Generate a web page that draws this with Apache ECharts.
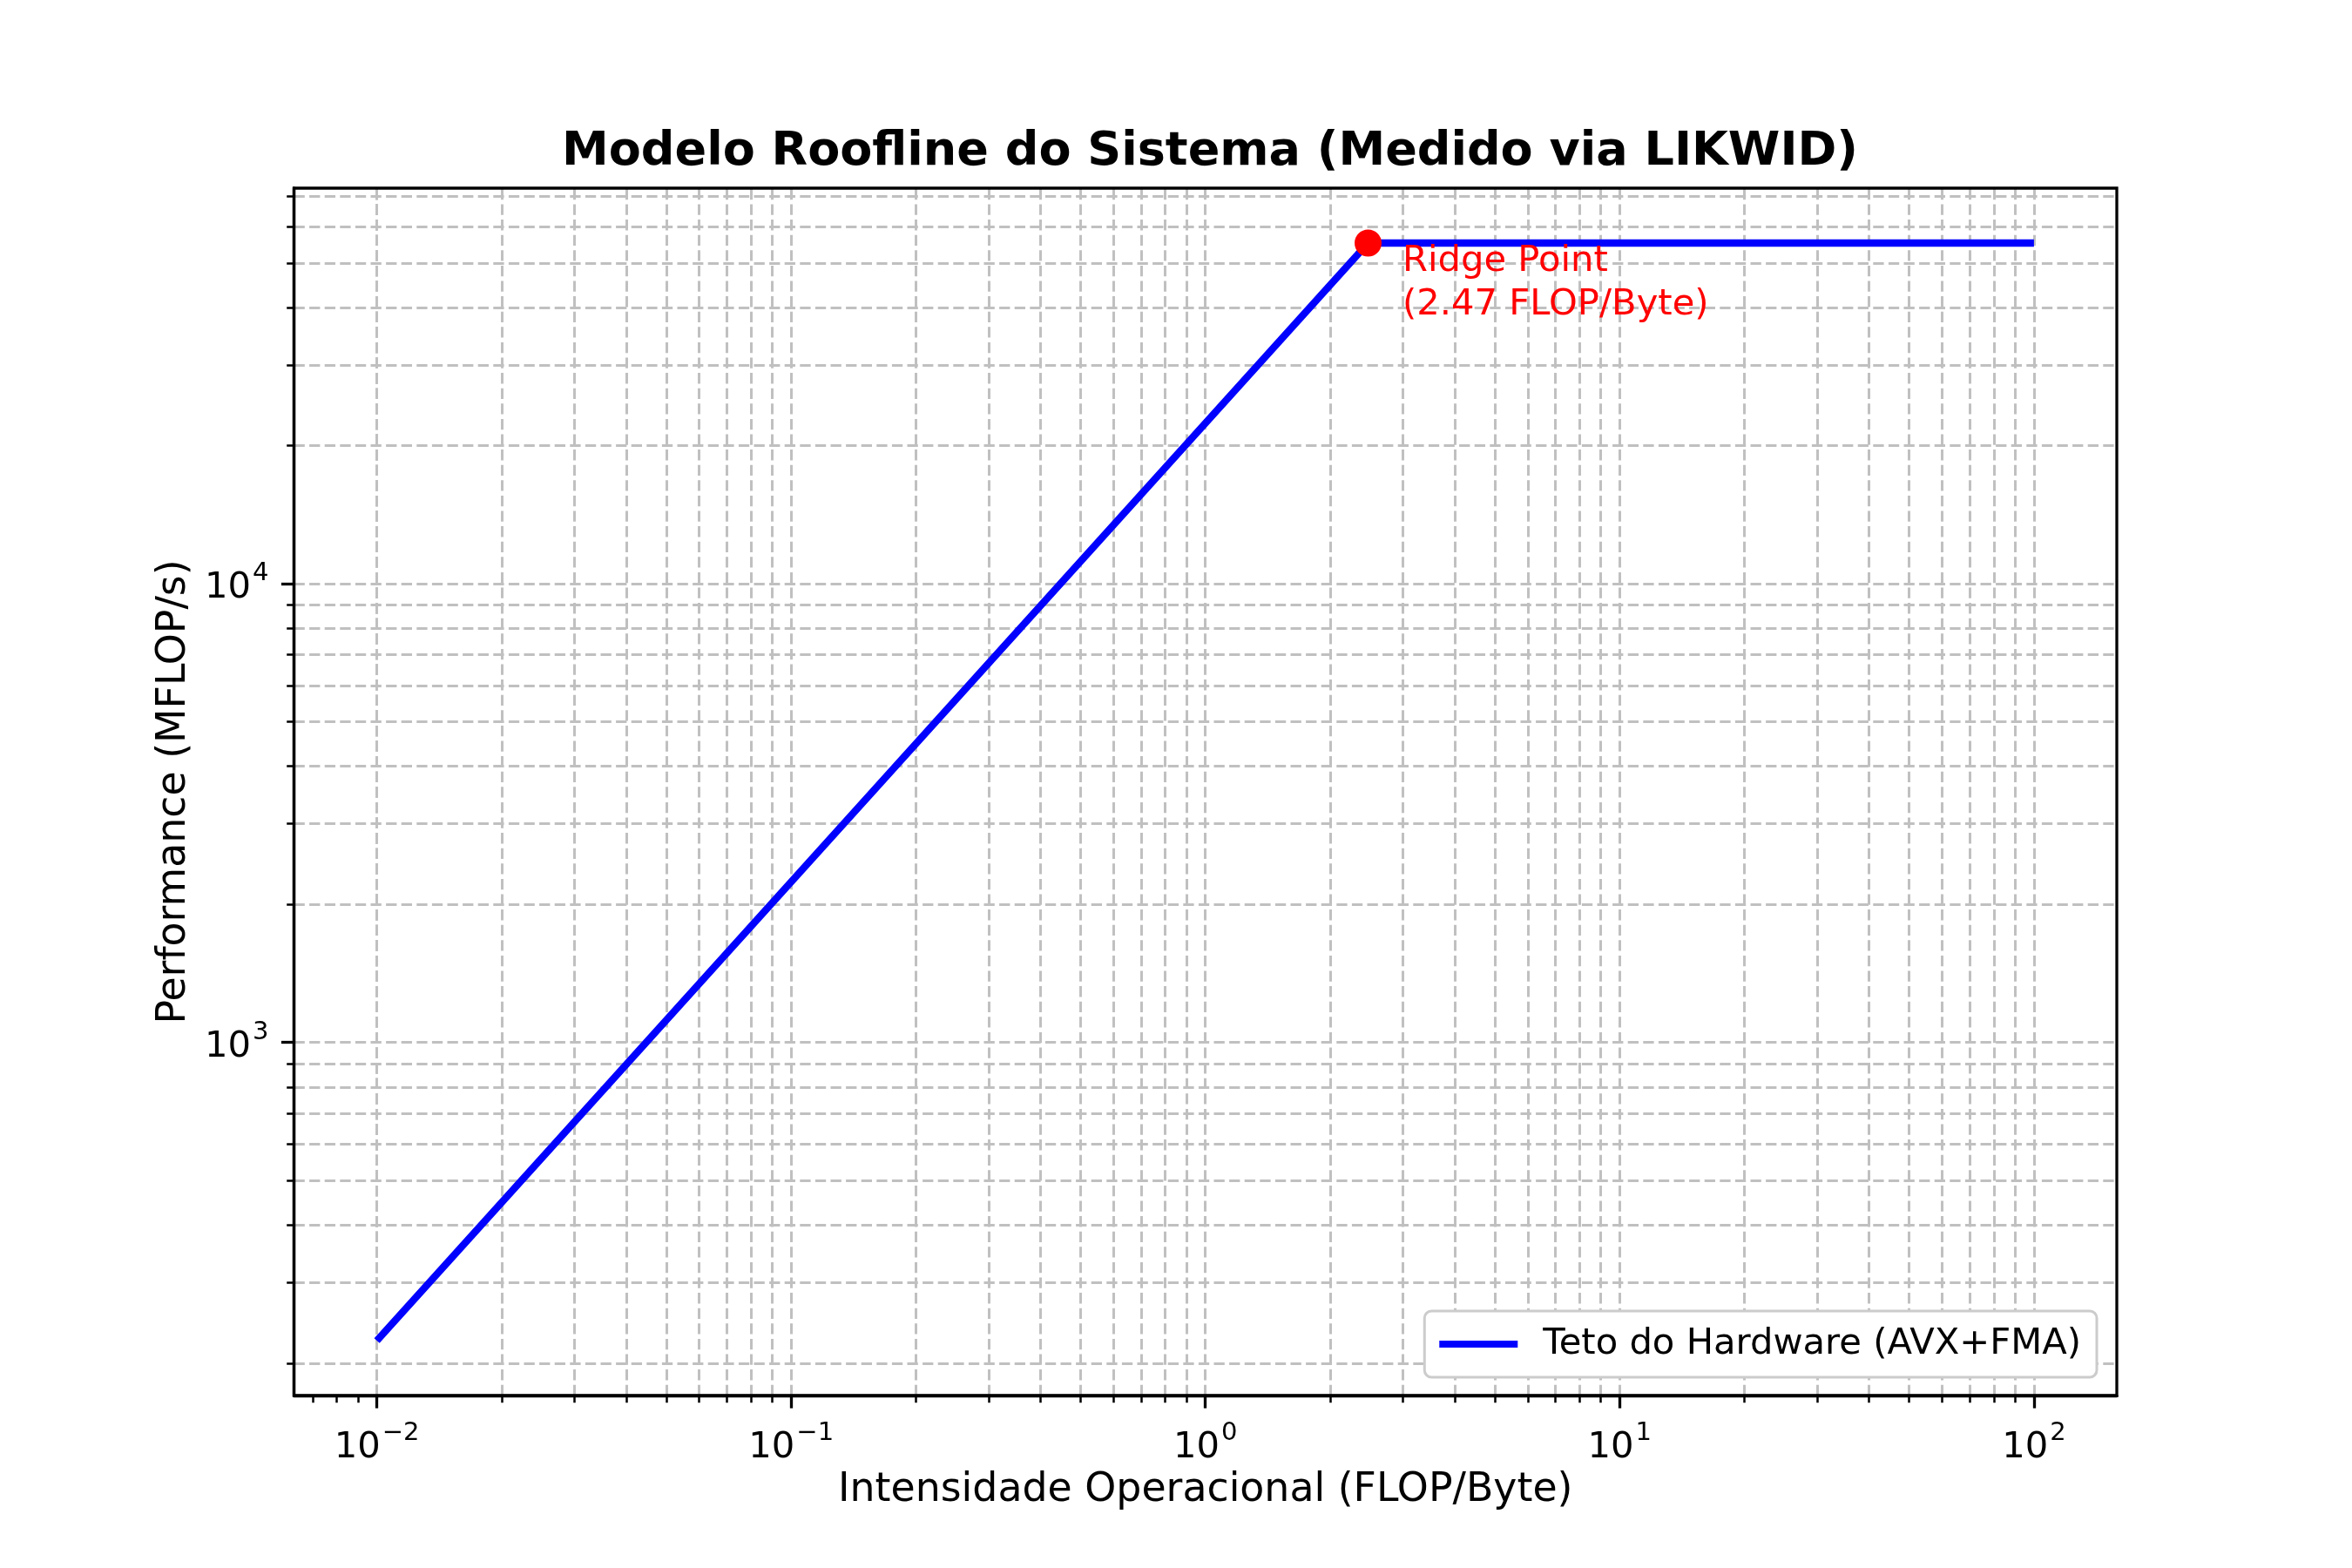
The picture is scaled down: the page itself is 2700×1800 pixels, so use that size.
<!DOCTYPE html>
<html>
<head>
<meta charset="utf-8">
<script src="https://cdn.jsdelivr.net/npm/echarts@6/dist/echarts.min.js"></script>
<style>
html,body{margin:0;padding:0;background:#fff;}
#chart{width:2700px;height:1800px;}
</style>
</head>
<body>
<div id="chart"></div>
<script>
// ---- data ----
const intensity = [0.01, 2.47, 100];          // FLOP/Byte
const performance = [223.9, 55300, 55300];    // MFLOP/s
const ridgePoint = [2.47, 55300];
const xMajorTicks = [0.01, 0.1, 1, 10, 100];
const yMajorTicks = [1000, 10000];
const xMinorTicks = [0.007, 0.008, 0.009,
  0.02, 0.03, 0.04, 0.05, 0.06, 0.07, 0.08, 0.09,
  0.2, 0.3, 0.4, 0.5, 0.6, 0.7, 0.8, 0.9,
  2, 3, 4, 5, 6, 7, 8, 9,
  20, 30, 40, 50, 60, 70, 80, 90];
const yMinorTicks = [200, 300, 400, 500, 600, 700, 800, 900,
  2000, 3000, 4000, 5000, 6000, 7000, 8000, 9000,
  20000, 30000, 40000, 50000, 60000, 70000];
const xRange = [0.0063096, 158.489];
const yRange = [170.0, 72840];

const FONT = 'DejaVu Sans';
const FS = 41.7;
const FS_LABEL = 45.8;

function sciLabel(v) {
  const e = Math.round(Math.log10(v));
  const s = (e < 0 ? '\u2212' : '') + Math.abs(e);
  return '{b|10}{s|' + s + '}';
}
const richLabel = {
  b: { fontFamily: FONT, fontSize: FS, color: '#000', lineHeight: 52, verticalAlign: 'bottom' },
  s: { fontFamily: FONT, fontSize: 29, color: '#000', lineHeight: 52, verticalAlign: 'top', padding: [0, 0, 0, 2] }
};

const gridStyle = { color: '#c0c0c0', width: 3, type: [12.3, 5.3] };
const gridLines = [];
xMajorTicks.concat(xMinorTicks).forEach(v => gridLines.push({ xAxis: v }));
yMajorTicks.concat(yMinorTicks).forEach(v => gridLines.push({ yAxis: v }));

const chart = echarts.init(document.getElementById('chart'), null, { renderer: 'canvas' });
chart.setOption({
  backgroundColor: '#ffffff',
  animation: false,
  title: {
    text: 'Modelo Roofline do Sistema (Medido via LIKWID)',
    left: 1384, top: 143, textAlign: 'center',
    textStyle: { fontFamily: FONT, fontSize: 54, fontWeight: 'bold', color: '#000' }
  },
  grid: {
    left: 337.5, right: 270, top: 216, bottom: 198,
    show: true, borderColor: '#000', borderWidth: 3.3, backgroundColor: 'transparent', z: 10
  },
  legend: {
    right: 293, bottom: 219,
    orient: 'vertical',
    data: [{ name: 'Teto do Hardware (AVX+FMA)', icon: 'rect' }],
    itemWidth: 90, itemHeight: 8,
    padding: [17, 18, 17, 17],
    backgroundColor: '#ffffff',
    borderColor: '#cccccc', borderWidth: 3, borderRadius: 8,
    textStyle: { fontFamily: FONT, fontSize: FS, color: '#000', padding: [0, 0, 0, 24] },
    z: 20
  },
  xAxis: [{
    type: 'log', min: xRange[0], max: xRange[1],
    name: 'Intensidade Operacional (FLOP/Byte)', nameLocation: 'middle', nameGap: 78,
    nameTextStyle: { fontFamily: FONT, fontSize: FS_LABEL, color: '#000' },
    axisLine: { show: true, lineStyle: { color: '#000', width: 3.3 } },
    axisTick: { show: true, customValues: xMajorTicks, length: 14.6, lineStyle: { color: '#000', width: 3.3 } },
    axisLabel: { show: true, customValues: xMajorTicks, margin: 29, formatter: sciLabel, rich: richLabel },
    splitLine: { show: false }, minorTick: { show: false }
  }, {
    type: 'log', min: xRange[0], max: xRange[1], position: 'bottom',
    axisLine: { show: false },
    axisTick: { show: true, customValues: xMinorTicks, length: 8.3, lineStyle: { color: '#000', width: 2.5 } },
    axisLabel: { show: false }, splitLine: { show: false }
  }],
  yAxis: [{
    type: 'log', min: yRange[0], max: yRange[1],
    name: 'Performance (MFLOP/s)', nameLocation: 'middle', nameGap: 114,
    nameTextStyle: { fontFamily: FONT, fontSize: FS_LABEL, color: '#000' },
    axisLine: { show: true, lineStyle: { color: '#000', width: 3.3 } },
    axisTick: { show: true, customValues: yMajorTicks, length: 14.6, lineStyle: { color: '#000', width: 3.3 } },
    axisLabel: { show: true, customValues: yMajorTicks, margin: 29, formatter: sciLabel, rich: richLabel },
    splitLine: { show: false }
  }, {
    type: 'log', min: yRange[0], max: yRange[1], position: 'left',
    axisLine: { show: false },
    axisTick: { show: true, customValues: yMinorTicks, length: 8.3, lineStyle: { color: '#000', width: 2.5 } },
    axisLabel: { show: false }, splitLine: { show: false }
  }],
  series: [{
    name: 'grid',
    type: 'line',
    data: [],
    z: 1,
    silent: true,
    markLine: {
      silent: true, symbol: 'none', animation: false,
      z: 0,
      label: { show: false },
      lineStyle: gridStyle,
      emphasis: { disabled: true },
      data: gridLines
    }
  }, {
    name: 'Teto do Hardware (AVX+FMA)',
    type: 'line',
    data: intensity.map((x, i) => [x, performance[i]]),
    symbol: 'none',
    lineStyle: { color: '#0000ff', width: 8.3 },
    itemStyle: { color: '#0000ff' },
    z: 6
  }, {
    name: 'ridge',
    type: 'scatter',
    data: [ridgePoint],
    symbolSize: 31,
    itemStyle: { color: '#ff0000', opacity: 1 },
    z: 7,
    label: {
      show: true,
      position: [55, 12],
      align: 'left', verticalAlign: 'top',
      formatter: 'Ridge Point\n(2.47 FLOP/Byte)',
      fontFamily: FONT, fontSize: FS, color: '#ff0000', opacity: 1, lineHeight: 50
    }
  }]
});
</script>
</body>
</html>
